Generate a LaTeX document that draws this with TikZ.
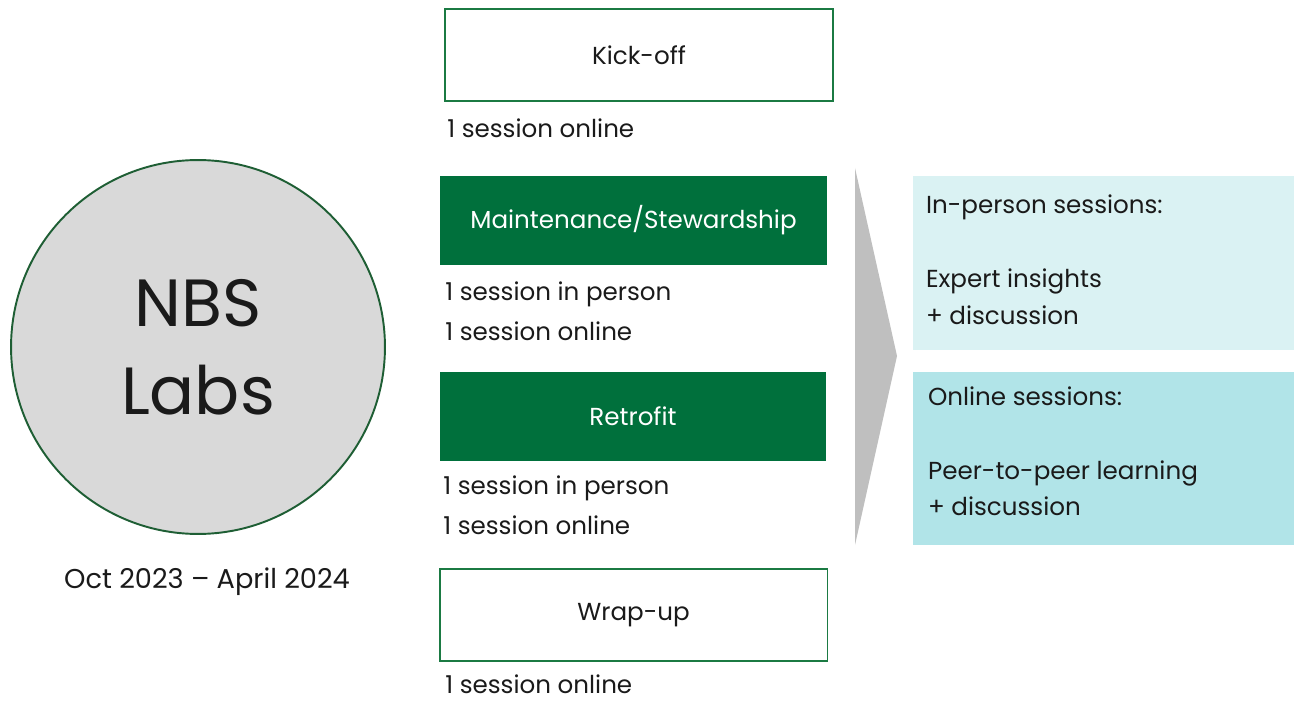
\documentclass[tikz,border=0pt]{standalone}
\usepackage{fontspec}
\setmainfont{Poppins}
\definecolor{labgreen}{HTML}{00703C}
\definecolor{edgegreen}{HTML}{1B7A43}
\definecolor{ringgreen}{HTML}{1E5E34}
\definecolor{labgray}{HTML}{D9D9D9}
\definecolor{chevgray}{HTML}{BFBFBF}
\definecolor{paleteal}{HTML}{DAF2F3}
\definecolor{softteal}{HTML}{B1E4E8}
\definecolor{ink}{HTML}{1A1A1A}

\begin{document}
\begin{tikzpicture}[x=0.02cm, y=-0.02cm, font=\fontsize{14}{21}\selectfont, text=ink,
	phase/.style={draw=edgegreen, line width=1.1pt, fill=white, minimum width=7.76cm, minimum height=1.84cm},
	phasefull/.style={fill=labgreen, text=white, minimum width=7.74cm, minimum height=1.78cm},
	note/.style={anchor=west, inner sep=0pt},
	infobox/.style={minimum width=7.62cm, minimum height=3.48cm, inner sep=0pt},
	infotext/.style={anchor=north west, align=left, inner sep=0pt}]
	\useasboundingbox (0,0) rectangle (1294,702);

	% circle
	\node[circle, draw=ringgreen, line width=1.1pt, fill=labgray, minimum size=7.48cm, align=center,
		font=\fontsize{38}{50}\selectfont] (labs) at (198,347) {NBS\\Labs};
	\node (dates) at (207,582) {\fontsize{15.5}{18}\selectfont Oct 2023 -- April 2024};

	% phases
	\node[phase] (kickoff) at (639,55) {Kick-off};
	\node[note] (kicknote) at (447,128) {1 session online};

	\node[phasefull] (maint) at (633.5,220.5) {Maintenance/Stewardship};
	\node[note] (maintnote1) at (445,294) {1 session in person};
	\node[note] (maintnote2) at (445,331) {1 session online};

	\node[phasefull] (retro) at (633,416.5) {Retrofit};
	\node[note] (retronote1) at (443,488) {1 session in person};
	\node[note] (retronote2) at (443,525) {1 session online};

	\node[phase] (wrapup) at (633.5,615) {Wrap-up};
	\node[note] (wrapnote) at (445,684) {1 session online};

	% chevron
	\fill[chevgray] (855,168) -- (897,356) -- (855,545) -- cycle;

	% session types
	\node[infobox, fill=paleteal] (inperson) at (1103.5,263) {};
	\node[infotext] at ([shift={(13,19)}]inperson.north west) {In-person sessions:\\[0pt]\\Expert insights\\+ discussion};
	\node[infobox, fill=softteal] (online) at (1103.5,458.5) {};
	\node[infotext] at ([shift={(15,15)}]online.north west) {Online sessions:\\[0pt]\\Peer-to-peer learning\\+ discussion};
\end{tikzpicture}
\end{document}
